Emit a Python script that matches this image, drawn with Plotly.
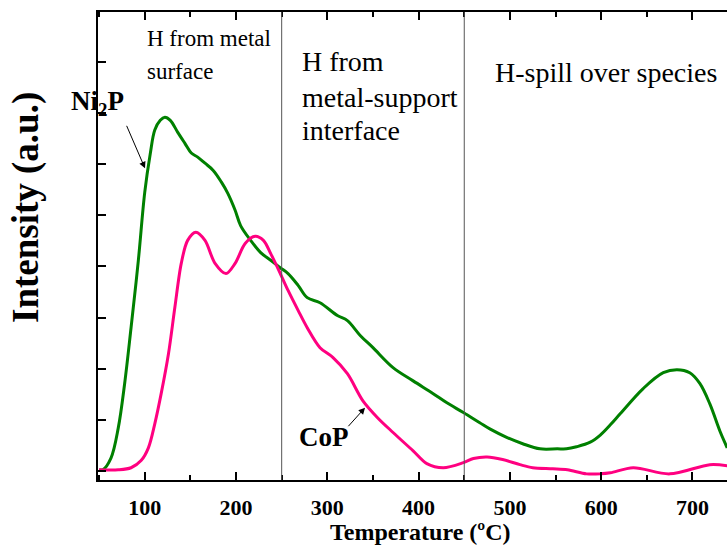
import plotly.graph_objects as go

# ---- data ----
temp_ni2p = [50, 54, 63, 71, 78, 85, 93, 100, 106, 111,
             117, 122, 128, 136, 144, 151, 158, 166, 175, 184,
             191, 199, 205, 216, 227, 238, 248, 257, 268, 278,
             292, 311, 322, 336, 350, 372, 394, 416, 431, 449,
             467, 478, 497, 514, 533, 552, 562, 573, 588, 599,
             610, 621, 646, 668, 683, 697, 708, 719, 730, 738]
int_ni2p = [0.02, 0.02, 0.25, 0.84, 1.71, 2.80, 4.12, 5.45, 6.20, 6.67,
            6.86, 6.92, 6.86, 6.63, 6.41, 6.22, 6.14, 6.02, 5.88, 5.65,
            5.43, 5.10, 4.80, 4.51, 4.27, 4.12, 3.98, 3.86, 3.63, 3.39,
            3.29, 3.04, 2.94, 2.65, 2.41, 2.02, 1.76, 1.51, 1.33, 1.14,
            0.94, 0.82, 0.65, 0.53, 0.43, 0.43, 0.43, 0.47, 0.56, 0.70,
            0.90, 1.12, 1.61, 1.92, 1.98, 1.92, 1.71, 1.31, 0.78, 0.45]

temp_cop = [50, 71, 85, 96, 104, 111, 118, 126, 133, 140,
            147, 156, 166, 177, 189, 199, 210, 221, 230, 238,
            248, 257, 268, 278, 292, 306, 322, 339, 355, 372,
            394, 409, 427, 449, 460, 475, 492, 511, 525, 547,
            563, 584, 599, 610, 635, 675, 719, 738]
int_cop = [0.02, 0.02, 0.06, 0.20, 0.45, 0.92, 1.51, 2.29, 3.20, 4.06,
           4.51, 4.67, 4.51, 4.06, 3.86, 4.06, 4.45, 4.59, 4.51, 4.25,
           3.88, 3.53, 3.14, 2.80, 2.41, 2.22, 1.90, 1.37, 1.04, 0.75,
           0.39, 0.14, 0.06, 0.16, 0.24, 0.27, 0.22, 0.12, 0.06, 0.04,
           0.02, -0.06, -0.06, -0.04, 0.06, -0.06, 0.12, 0.10]

region_bounds = [250, 450]
x_ticks = [100, 200, 300, 400, 500, 600, 700]

SERIF = "Liberation Serif"

fig = go.Figure()
fig.add_trace(go.Scatter(x=temp_ni2p, y=int_ni2p, mode="lines",
                         line=dict(color="#008000", width=3, shape="spline", smoothing=1.0),
                         name="Ni2P"))
fig.add_trace(go.Scatter(x=temp_cop, y=int_cop, mode="lines",
                         line=dict(color="#FF0080", width=3, shape="spline", smoothing=0.9),
                         name="CoP"))

for xb in region_bounds:
    fig.add_shape(type="line", x0=xb, x1=xb, y0=0, y1=1, xref="x", yref="paper",
                  line=dict(color="#555555", width=1))

ann = []
# region labels
ann.append(dict(x=100.3, y=(480 - 38) / 468, xref="x", yref="paper", text="H from metal",
                xanchor="left", yanchor="middle", showarrow=False,
                font=dict(family=SERIF, size=23, color="black")))
ann.append(dict(x=100.3, y=(480 - 71) / 468, xref="x", yref="paper", text="surface",
                xanchor="left", yanchor="middle", showarrow=False,
                font=dict(family=SERIF, size=23, color="black")))
for txt, yc in [("H from", 62), ("metal-support", 97), ("interface", 130)]:
    ann.append(dict(x=(300 - 98) / 629, y=(480 - yc) / 468, xref="paper", yref="paper", text=txt,
                    xanchor="left", yanchor="middle", showarrow=False,
                    font=dict(family=SERIF, size=28, color="black")))
ann.append(dict(x=(493 - 98) / 629, y=(480 - 72) / 468, xref="paper", yref="paper",
                text="H-spill over species", xanchor="left", yanchor="middle", showarrow=False,
                font=dict(family=SERIF, size=28, color="black")))
# series labels
ann.append(dict(x=(69 - 98) / 629, y=(480 - 103) / 468, xref="paper", yref="paper",
                text="Ni<sub>2</sub>P", xanchor="left", yanchor="middle", showarrow=False,
                font=dict(family=SERIF, size=27, color="black", weight="bold")))
ann.append(dict(x=(297 - 98) / 629, y=(480 - 437) / 468, xref="paper", yref="paper",
                text="CoP", xanchor="left", yanchor="middle", showarrow=False,
                font=dict(family=SERIF, size=27, color="black", weight="bold")))
# arrows
ann.append(dict(x=100.3, y=5.92, xref="x", yref="y", text="", showarrow=True,
                ax=-19, ay=-44, arrowhead=2, arrowsize=1.3, arrowwidth=1, arrowcolor="black"))
ann.append(dict(x=341.3, y=1.235, xref="x", yref="y", text="", showarrow=True,
                ax=-18, ay=20, arrowhead=2, arrowsize=1.3, arrowwidth=1, arrowcolor="black"))
# axis titles
ann.append(dict(x=(420 - 98) / 629, y=(480 - 532) / 468, xref="paper", yref="paper",
                text="Temperature (ºC)", xanchor="center", yanchor="middle", showarrow=False,
                font=dict(family=SERIF, size=24, color="black", weight="bold")))
ann.append(dict(x=(26 - 98) / 629, y=(480 - 208) / 468, xref="paper", yref="paper",
                text="Intensity (a.u.)", textangle=-90, xanchor="center", yanchor="middle",
                showarrow=False,
                font=dict(family=SERIF, size=37, color="black", weight="bold")))

fig.update_layout(
    width=727, height=550,
    margin=dict(l=98, r=0, t=12, b=70),
    plot_bgcolor="white", paper_bgcolor="white",
    showlegend=False,
    annotations=ann,
    xaxis=dict(range=[48.8, 737.8], showline=True, linecolor="black", linewidth=2,
               mirror="ticks", ticks="inside", ticklen=8, tickwidth=1.5, tickcolor="black",
               tickvals=x_ticks, ticktext=[str(v) for v in x_ticks],
               minor=dict(ticks="inside", ticklen=5, tickwidth=1.5, dtick=50, tick0=0,
                          tickcolor="black", showgrid=False),
               showgrid=False, zeroline=False, ticklabelstandoff=7,
               tickfont=dict(family=SERIF, size=22, color="black", weight="bold")),
    yaxis=dict(range=[-0.18, 8.98], showline=True, linecolor="black", linewidth=2,
               ticks="inside", ticklen=8, tickwidth=1.5, tickcolor="black",
               dtick=1, tick0=0, showticklabels=False, showgrid=False, zeroline=False),
)

fig.write_html("out.html", config={"displayModeBar": False})
